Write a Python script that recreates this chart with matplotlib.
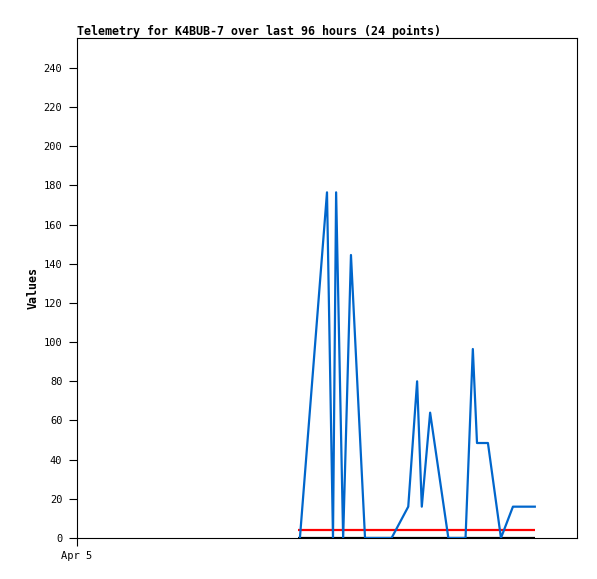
import matplotlib
matplotlib.use("Agg")
import matplotlib.pyplot as plt

# hours since Apr 5 00:00
hours = [42.8, 48.0, 49.15, 49.75, 51.1, 52.6, 55.3, 60.4, 63.6, 65.3, 66.2,
         67.8, 71.3, 74.6, 76.0, 76.8, 78.9, 81.4, 83.7, 87.9]
values = [0, 176.5, 0, 176.5, 0, 144.5, 0, 0, 16, 80, 16,
          64, 0, 0, 96.5, 48.5, 48.5, 0, 16, 16]
ref_hours = [42.5, 87.9]
red_values = [4, 4]
black_values = [0, 0]
x_ticks = [0]
x_tick_labels = ["Apr 5"]
y_ticks = list(range(0, 241, 20))

mono = "DejaVu Sans Mono"
fig = plt.figure(figsize=(5.97, 5.79), dpi=100)
ax = fig.add_axes([77/597, 41/579, 500/597, 500/579])

ax.plot(ref_hours, black_values, color="#000000", lw=1.6, solid_capstyle="butt", zorder=2)
ax.plot(ref_hours, red_values, color="#ff0000", lw=1.6, solid_capstyle="butt", zorder=2)
ax.plot(hours, values, color="#0066cc", lw=1.6, zorder=3)

ax.set_xlim(0, 96)
ax.set_ylim(0, 255.3)
ax.set_yticks(y_ticks)
ax.set_yticklabels([str(v) for v in y_ticks], family=mono, fontsize=7.5)
ax.set_xticks(x_ticks)
ax.set_xticklabels(x_tick_labels, family=mono, fontsize=7.5)
ax.tick_params(axis="y", direction="out", length=5.5, width=0.8, pad=5)
ax.tick_params(axis="x", direction="out", length=5.5, width=0.8, pad=4)
for s in ax.spines.values():
    s.set_linewidth(0.8)

ax.set_title("Telemetry for K4BUB-7 over last 96 hours (24 points)", loc="left",
             family=mono, fontweight="bold", fontsize=8.4, pad=2)
ax.set_ylabel("Values", family=mono, fontweight="bold", fontsize=8.4, labelpad=3)

fig.savefig("out.png", dpi=100)
